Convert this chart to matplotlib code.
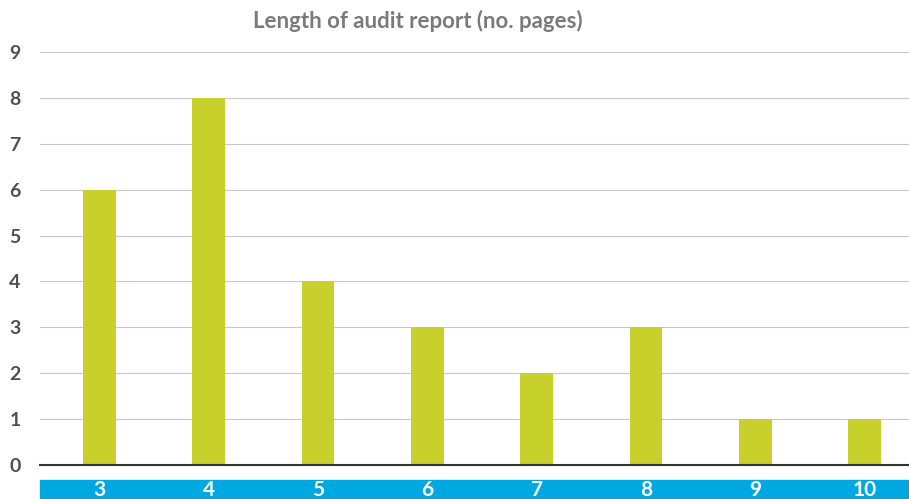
import matplotlib.pyplot as plt
from matplotlib.patches import Rectangle

pages = ['3', '4', '5', '6', '7', '8', '9', '10']
counts = [6, 8, 4, 3, 2, 3, 1, 1]
y_ticks = [0, 1, 2, 3, 4, 5, 6, 7, 8, 9]

plt.rcParams['font.family'] = ['Lato', 'DejaVu Sans']

W, H = 909, 499
fig = plt.figure(figsize=(W / 100, H / 100), dpi=100)
ax = fig.add_axes([40 / W, 34 / H, 1 - 40 / W, (465 - 52) / H])

# blue band behind the category labels
band = Rectangle((40 / W, 0), 1 - 40 / W, 19 / H, transform=fig.transFigure,
                 color='#00a8e1', zorder=-5)
fig.patches.append(band)
ax.set_zorder(1)
ax.patch.set_alpha(0)

x = list(range(len(pages)))
ax.bar(x, counts, width=0.3, color='#c8d12b', zorder=3)

ax.set_xlim(-0.544, 7.407)
ax.set_ylim(0, 9)
ax.set_yticks(y_ticks)
ax.set_yticklabels([str(v) for v in y_ticks], fontsize=14, fontweight='bold', color='#505050')
ax.set_xticks(x)
ax.set_xticklabels(pages, fontsize=15, fontweight='bold', color='white')
ax.tick_params(axis='y', length=0, pad=14)
ax.tick_params(axis='x', length=0, pad=11)

ax.grid(axis='y', color='#c8c8c8', linewidth=0.8, zorder=0)
for s in ['top', 'right', 'left']:
    ax.spines[s].set_visible(False)
ax.spines['bottom'].set_color('#333333')
ax.spines['bottom'].set_linewidth(1.5)
ax.spines['bottom'].set_zorder(4)

fig.text(418 / W, 1 - 21 / H, 'Length of audit report (no. pages)', ha='center', va='center',
         fontsize=16, fontweight='bold', color='#7a7a7a')

fig.savefig('out.png', dpi=100)
